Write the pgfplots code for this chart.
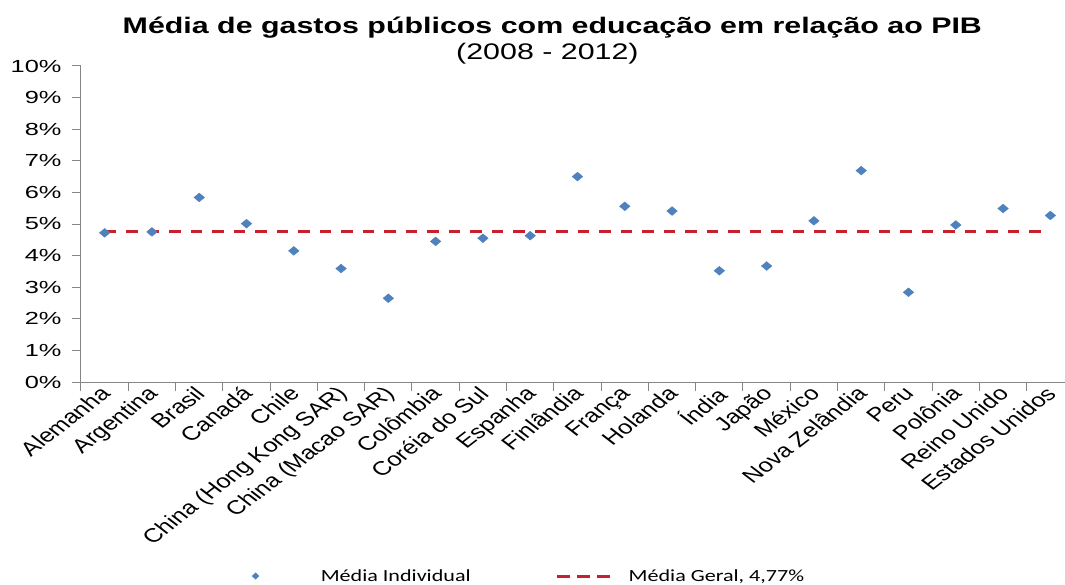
\documentclass[border=0pt]{standalone}
\usepackage{pgfplots}
\pgfplotsset{compat=1.18}
\usepackage{fontspec}
\setmainfont{Liberation Sans}
\newfontfamily\titlefont{Liberation Sans}[FakeStretch=1.35]
\newfontfamily\yfont{Liberation Sans}[FakeStretch=1.45]
\newfontfamily\xfont{Liberation Sans}
\newfontfamily\legfont{Carlito}[FakeStretch=1.3]
\definecolor{mblue}{HTML}{4F81BD}
\definecolor{mred}{HTML}{C8202F}
\definecolor{axgray}{HTML}{868686}
\begin{document}
\begin{tikzpicture}
\begin{axis}[
  at={(0,0)}, anchor=south west,
  scale only axis, width=984bp, height=316bp,
  xmin=-0.5, xmax=20.31, ymin=0, ymax=10,
  clip=false,
  axis x line*=bottom, axis y line*=left,
  axis line style={axgray, line width=1bp, -},
  tick align=outside,
  tick style={axgray, line width=1bp},
  major tick length=9bp,
  xtick={-0.5,0.5,...,19.5},
  xticklabels={},
  extra x ticks={0,1,...,20},
  extra x tick labels={Alemanha, Argentina, Brasil, Canadá, Chile, China (Hong Kong SAR), China (Macao SAR), Colômbia, Coréia do Sul, Espanha, Finlândia, França, Holanda, Índia, Japão, México, Nova Zelândia, Peru, Polônia, Reino Unido, Estados Unidos},
  extra x tick style={major tick length=0pt, xticklabel style={font=\xfont\fontsize{19.5bp}{22bp}\selectfont, xshift=-6bp, xscale=1.3, rotate=45, anchor=north east, inner sep=2bp}},
  ytick={0,1,...,10},
  yticklabel={\pgfmathprintnumber{\tick}\%},
  yticklabel style={font=\yfont\fontsize{17.5bp}{20bp}\selectfont, xshift=-7bp},
  /pgf/number format/assume math mode=true,
  legend columns=2,
  legend style={draw=none, fill=none, at={(axis description cs:0.452,-0.614)}, anchor=center,
    font=\legfont\fontsize{17bp}{20bp}\selectfont,
    /tikz/every even column/.append style={column sep=83bp}},
]
\addplot[only marks, mark=diamond*, mark size=4.4bp, color=mblue,
  mark options={xscale=1.6, fill=mblue, draw=mblue},
  legend image code/.code={\path (-10bp,0) (63bp,0); \draw[only marks, mark=diamond*, mark size=3.2bp, color=mblue, mark options={xscale=1.4, fill=mblue, draw=mblue}] plot coordinates {(0bp,0bp)};}]
coordinates {
(0,4.72) (1,4.75) (2,5.84) (3,5.01) (4,4.15) (5,3.59) (6,2.65) (7,4.45)
(8,4.55) (9,4.63) (10,6.50) (11,5.56) (12,5.41) (13,3.52) (14,3.67)
(15,5.10) (16,6.69) (17,2.84) (18,4.97) (19,5.49) (20,5.27)
};
\addlegendentry{Média Individual}
\addplot[mred, line width=3bp, dash pattern=on 11.5bp off 10bp,
  legend image code/.code={\path (0,0) (68bp,0); \draw[mred, line width=3bp, dash pattern=on 13bp off 7bp] (0bp,0bp) -- (53bp,0bp);}]
coordinates {(0,4.77) (20,4.77)};
\addlegendentry{Média Geral, 4,77\%}
\node[font=\titlefont\bfseries\fontsize{22.5bp}{26bp}\selectfont, anchor=base] at (axis description cs:0.479,1.104) {Média de gastos públicos com educação em relação ao PIB};
\node[font=\titlefont\fontsize{22.5bp}{26bp}\selectfont, anchor=base] at (axis description cs:0.474,1.019) {(2008 - 2012)};
\end{axis}
\pgfresetboundingbox
\useasboundingbox (-81bp,-203bp) rectangle (984bp,382bp);
\end{tikzpicture}
\end{document}
